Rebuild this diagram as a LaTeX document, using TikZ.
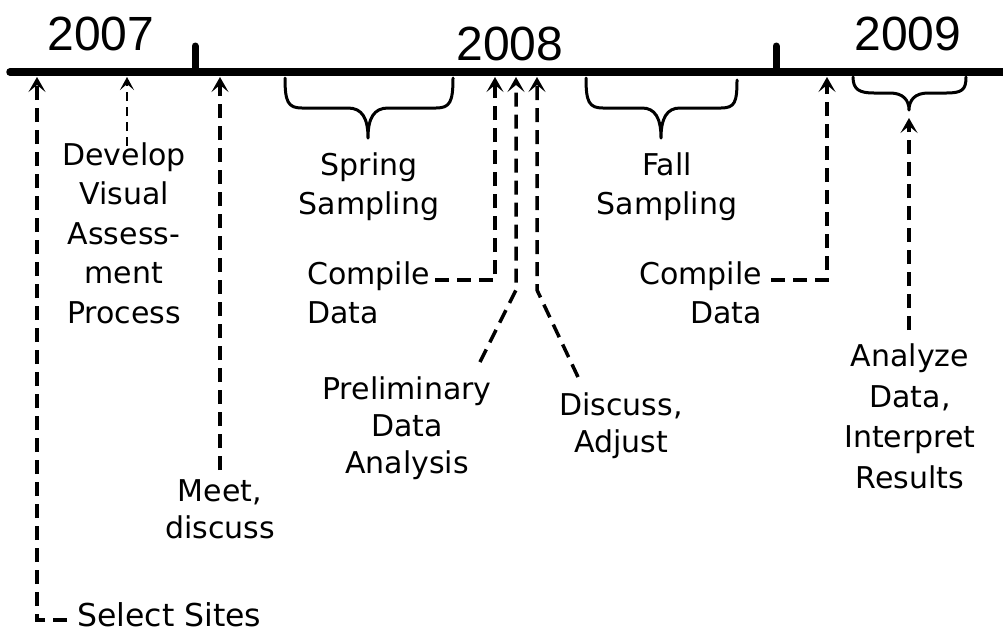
\documentclass[tikz,border=0pt]{standalone}
\usepackage{fontspec}
\setmainfont{DejaVu Sans}
\newfontfamily\yearfont{Liberation Sans}
\usetikzlibrary{arrows.meta}
\begin{document}
\begin{tikzpicture}[x=1pt,y=-1pt,
  lbl/.style={font=\fontsize{30}{39}\selectfont, align=center, inner sep=0pt, anchor=base},
  tight/.style={font=\fontsize{30}{37}\selectfont},
  yr/.style={font=\yearfont\fontsize{48}{48}\selectfont, inner sep=0pt, anchor=base},
  conn/.style={line width=3.5pt, dash pattern=on 14pt off 8pt, line join=miter,
    -{Stealth[length=15pt,width=17pt,inset=7pt]}},
  thinconn/.style={line width=2.4pt, dash pattern=on 9pt off 6pt,
    -{Stealth[length=13pt,width=14pt,inset=6pt]}},
  bracestyle/.style={line width=3pt, line cap=round, line join=round},
  timeline/.style={line width=7.5pt, line cap=round},
]
\useasboundingbox (0,0) rectangle (1003,633);

% timeline and ticks
\draw[timeline] (10,72) coordinate (tl) -- (1012,72) coordinate (tr);
\draw[timeline, line width=7pt] (195,72) coordinate (tick1b) -- (195,46) coordinate (tick1t);
\draw[timeline, line width=7pt] (776,72) coordinate (tick2b) -- (776,46) coordinate (tick2t);

% years
\node[yr] (y2007) at (101,50) {2007};
\node[yr] (y2008) at (510,60) {2008};
\node[yr] (y2009) at (908,50) {2009};

% points on the timeline
\coordinate (pSel) at (37,77);
\coordinate (pDev) at (127,77);
\coordinate (pMeet) at (220,77);
\coordinate (pComp1) at (495,77);
\coordinate (pPre) at (516,77);
\coordinate (pDis) at (537,77);
\coordinate (pComp2) at (827,77);
\coordinate (pAna) at (909,118);

% labels (anchor = baseline of last line)
\node[lbl, anchor=base west, font=\fontsize{31.5}{39}\selectfont] (sel) at (77,626) {Select Sites};
\node[lbl, font=\fontsize{30}{39.5}\selectfont] (dev) at (124,323) {Develop\\Visual\\Assess-\\ment\\Process};
\node[lbl, tight] (meet) at (220,538) {Meet,\\discuss};
\node[lbl] (spring) at (369,214) {Spring\\Sampling};
\node[lbl] (fall) at (667,214) {Fall\\Sampling};
\node[lbl, anchor=base west, align=left] (comp1) at (307,323) {Compile\\Data};
\node[lbl, anchor=base east, align=right] (comp2) at (762,323) {Compile\\Data};
\node[lbl, tight] (pre) at (407,473) {Preliminary\\Data\\Analysis};
\node[lbl, tight] (dis) at (621,452) {Discuss,\\Adjust};
\node[lbl, font=\fontsize{30}{40.5}\selectfont] (ana) at (910,488) {Analyze\\Data,\\Interpret\\Results};

% connector start points
\coordinate (sSel) at (67,620);
\coordinate (sDev) at (127,146);
\coordinate (sMeet) at (220,470);
\coordinate (sComp1) at (435,280);
\coordinate (sPre) at (480,362);
\coordinate (sDis) at (578,377);
\coordinate (sComp2) at (771,280);
\coordinate (sAna) at (909,330);

% connectors
\draw[conn] (sSel) -- (37,620) -- (pSel);
\draw[thinconn] (sDev) -- (pDev);
\draw[conn] (sMeet) -- (pMeet);
\draw[conn] (sComp1) -- (495,280) -- (pComp1);
\draw[conn] (sPre) -- (516,290) -- (pPre);
\draw[conn] (sDis) -- (537,290) -- (pDis);
\draw[conn] (sComp2) -- (827,280) -- (pComp2);
\draw[conn] (sAna) -- (pAna);

% braces
\draw[bracestyle] (285,78) .. controls (285,102) and (288,108) .. (302,108) -- (348,108)
  .. controls (362,108) and (368,118) .. (368,138)
  .. controls (368,118) and (374,108) .. (388,108) -- (436,108)
  .. controls (450,108) and (453,102) .. (453,78);
\draw[bracestyle] (586,78) .. controls (586,102) and (589,108) .. (603,108) -- (642,108)
  .. controls (655,108) and (661,118) .. (661,138)
  .. controls (661,118) and (667,108) .. (680,108) -- (721,108)
  .. controls (735,108) and (737,102) .. (737,80);
\draw[bracestyle] (853,77) .. controls (853,90) and (860,93) .. (874,93) -- (890,93)
  .. controls (903,93) and (909,100) .. (909,110)
  .. controls (909,100) and (915,93) .. (928,93) -- (946,93)
  .. controls (962,93) and (966,90) .. (966,77);
\end{tikzpicture}
\end{document}
